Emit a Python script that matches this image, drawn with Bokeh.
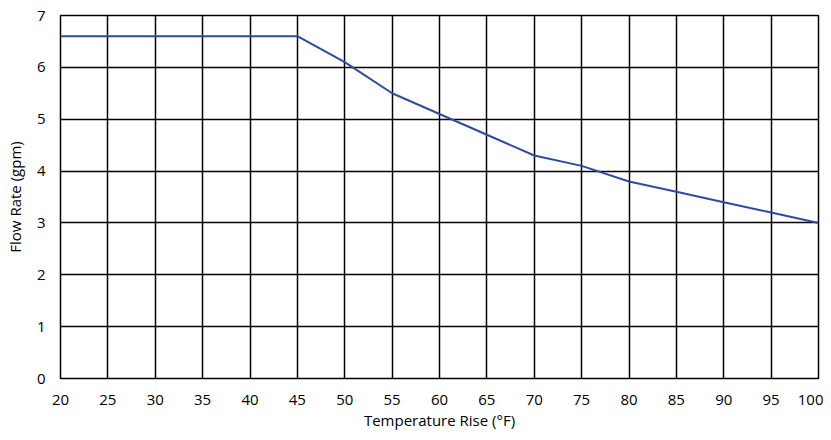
from bokeh.plotting import figure
from bokeh.models import FixedTicker, Range1d
from bokeh.embed import file_html
from bokeh.resources import INLINE

temp_rise = [20, 25, 30, 35, 40, 45, 50, 55, 60, 65, 70, 75, 80, 85, 90, 95, 100]
flow_rate = [6.6, 6.6, 6.6, 6.6, 6.6, 6.6, 6.1, 5.5, 5.1, 4.7, 4.3, 4.1, 3.8, 3.6, 3.4, 3.2, 3.0]
x_ticks = list(range(20, 101, 5))
y_ticks = list(range(0, 8))

FONT = "Open Sans"

p = figure(width=823, height=432, output_backend="svg", toolbar_location=None,
           x_range=Range1d(20, 100), y_range=Range1d(0, 7),
           min_border_left=60, min_border_right=5, min_border_top=15, min_border_bottom=53)

p.line(temp_rise, flow_rate, line_color="#2E4BA3", line_width=2)

for ax in (p.xaxis[0], p.yaxis[0]):
    ax.axis_line_color = None
    ax.major_tick_line_color = None
    ax.minor_tick_line_color = None
    ax.major_tick_out = 0
    ax.major_tick_in = 0
    ax.minor_tick_out = 0
    ax.minor_tick_in = 0
    ax.major_label_text_font = FONT
    ax.major_label_text_font_size = "15px"
    ax.major_label_text_color = "#000000"
    ax.axis_label_text_font = FONT
    ax.axis_label_text_font_size = "15px"
    ax.axis_label_text_font_style = "normal"
    ax.axis_label_text_color = "#000000"

p.xaxis.ticker = FixedTicker(ticks=x_ticks)
p.yaxis.ticker = FixedTicker(ticks=y_ticks)
p.xaxis.axis_label = "Temperature Rise (°F)"
p.yaxis.axis_label = "Flow Rate (gpm)"
p.xaxis.major_label_standoff = 16
p.yaxis.major_label_standoff = 15
p.xaxis.axis_label_standoff = 2
p.yaxis.axis_label_standoff = 9

p.xgrid.grid_line_color = "black"
p.ygrid.grid_line_color = "black"
p.xgrid.grid_line_width = 1.5
p.ygrid.grid_line_width = 1.5
p.xgrid.grid_line_alpha = 1
p.ygrid.grid_line_alpha = 1

p.outline_line_color = "black"
p.outline_line_width = 1.5
p.background_fill_color = "white"
p.border_fill_color = "white"

open("out.html", "w").write(file_html(p, INLINE))
